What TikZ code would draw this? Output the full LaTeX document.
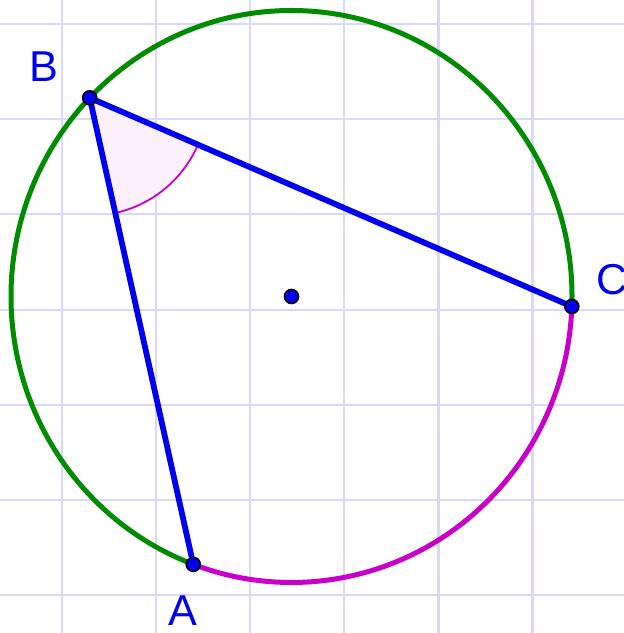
\documentclass[tikz,border=0pt]{standalone}
\usepackage{fontspec}
\setmainfont{Liberation Sans}
\usepackage{xcolor}
\usepackage{tikz}
\usetikzlibrary{calc}
\definecolor{gridlav}{HTML}{D8D8FA}
\definecolor{arcgreen}{HTML}{008C00}
\definecolor{arcmag}{HTML}{C800C8}
\definecolor{ptblue}{HTML}{0000F0}
\tikzset{
  gridline/.style={
    draw=gridlav,
    line width=1.1pt
  },
  majorarc/.style={
    draw=arcgreen,
    line width=2.5pt
  },
  minorarc/.style={
    draw=arcmag,
    line width=2.5pt
  },
  side/.style={
    draw=ptblue,
    line width=2.9pt
  },
  anglefill/.style={
    fill=arcmag!6
  },
  anglemark/.style={
    draw=arcmag,
    line width=0.9pt
  },
  dot/.style={
    circle,
    fill=ptblue,
    draw=black,
    line width=0.8pt,
    minimum size=7pt,
    inner sep=0pt
  },
  ptlabel/.style={
    text=ptblue,
    inner sep=0pt,
    font=\fontsize{21.6}{26}\selectfont
  }
}

\begin{document}
\begin{tikzpicture}[x=0.5pt,y=0.5pt]

\clip (0,0) rectangle (624,633);
\fill[white] (0,0) rectangle (624,633);

\foreach \gx in {62,156.1,250.2,344.3,438.4,532.5}
  \draw[gridline] (\gx,0) -- (\gx,633);
\foreach \gy in {38,133,228,323,419,514,609}
  \draw[gridline] (0,\gy) -- (624,\gy);

\coordinate (O) at (291.5,336.5);
\coordinate (pB) at ($(O)+(136:280.5 and 286)$);
\coordinate (pC) at ($(O)+(-2:280.5 and 286)$);
\coordinate (pA) at ($(O)+(249.5:280.5 and 286)$);

% angle at B
\fill[anglefill] (pB) -- ++(-77.4:118) arc[start angle=-77.4, end angle=-23.4, radius=118] -- cycle;

\draw[majorarc] (pC) arc[start angle=-2, end angle=249.5, x radius=280.5, y radius=286];
\draw[minorarc] (pA) arc[start angle=249.5, end angle=358, x radius=280.5, y radius=286];

\draw[anglemark] ($(pB)+(-77.4:118)$) arc[start angle=-77.4, end angle=-23.4, radius=118];

\draw[side] (pB) -- (pC);
\draw[side] (pB) -- (pA);

\node[dot] (center) at (O) {};
\node[dot] (A) at (pA) {};
\node[dot] (B) at (pB) {};
\node[dot] (C) at (pC) {};

\node[ptlabel] (labB) at (44,566) {B};
\node[ptlabel, anchor=west] (labC) at (596,353) {C};
\node[ptlabel] (labA) at (183,22) {A};

\end{tikzpicture}
\end{document}
